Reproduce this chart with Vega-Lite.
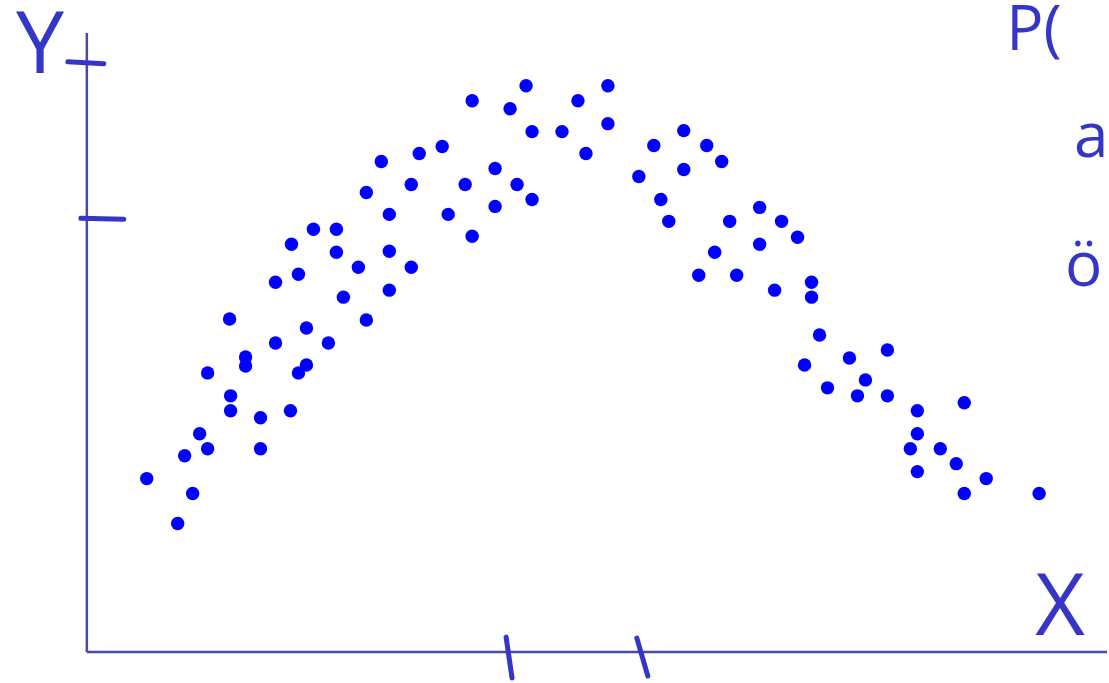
{
  "$schema": "https://vega.github.io/schema/vega-lite/v6.json",
  "width": 1109,
  "height": 683,
  "padding": 0,
  "autosize": {"type": "fit", "contains": "padding"},
  "background": "white",
  "config": {"view": {"stroke": null}},
  "datasets": {
    "points": [
      {"x":60,"y":174},{"x":91,"y":129},{"x":98,"y":197},{"x":106,"y":159},{"x":113,"y":219},
      {"x":121,"y":204},{"x":121,"y":280},{"x":143,"y":334},{"x":144,"y":257},{"x":144,"y":242},
      {"x":159,"y":296},{"x":159,"y":287},{"x":174,"y":235},{"x":174,"y":204},{"x":189,"y":371},
      {"x":189,"y":310},{"x":205,"y":409},{"x":204,"y":242},{"x":212,"y":379},{"x":212,"y":280},
      {"x":220,"y":325},{"x":220,"y":288},{"x":227,"y":424},{"x":242,"y":310},{"x":250,"y":424},
      {"x":250,"y":401},{"x":257,"y":356},{"x":272,"y":386},{"x":280,"y":461},{"x":280,"y":333},
      {"x":295,"y":492},{"x":303,"y":439},{"x":303,"y":402},{"x":303,"y":363},{"x":325,"y":469},
      {"x":325,"y":386},{"x":333,"y":500},{"x":356,"y":507},{"x":362,"y":439},{"x":379,"y":469},
      {"x":386,"y":417},{"x":386,"y":553},{"x":409,"y":485},{"x":409,"y":447},{"x":424,"y":545},
      {"x":431,"y":469},{"x":440,"y":568},{"x":446,"y":522},{"x":446,"y":454},{"x":476,"y":522},
      {"x":492,"y":553},{"x":500,"y":500},{"x":522,"y":568},{"x":522,"y":530},{"x":553,"y":477},
      {"x":568,"y":508},{"x":575,"y":454},{"x":583,"y":432},{"x":598,"y":523},{"x":598,"y":484},
      {"x":613,"y":378},{"x":621,"y":508},{"x":629,"y":401},{"x":636,"y":492},{"x":644,"y":432},
      {"x":651,"y":378},{"x":674,"y":446},{"x":674,"y":409},{"x":689,"y":363},{"x":696,"y":432},
      {"x":712,"y":416},{"x":726,"y":371},{"x":726,"y":356},{"x":734,"y":318},{"x":719,"y":288},
      {"x":742,"y":265},{"x":764,"y":295},{"x":772,"y":257},{"x":780,"y":273},{"x":802,"y":303},
      {"x":802,"y":257},{"x":832,"y":242},{"x":832,"y":219},{"x":825,"y":204},{"x":855,"y":204},
      {"x":871,"y":189},{"x":879,"y":250},{"x":832,"y":181},{"x":901,"y":174},{"x":879,"y":159},
      {"x":954,"y":159}
    ],
    "axes": [
      {"x":0,"y":0,"x2":0,"y2":621},
      {"x":0,"y":0,"x2":1022,"y2":0}
    ],
    "ticks": [
      {"x":-19,"y":592,"x2":17,"y2":590},
      {"x":-6,"y":435,"x2":37,"y2":434},
      {"x":420,"y":15,"x2":426,"y2":-26},
      {"x":551,"y":14,"x2":562,"y2":-24}
    ],
    "axisLabels": [
      {"x":-47,"y":581,"label":"Y"},
      {"x":975,"y":17,"label":"X"}
    ],
    "sideText": [
      {"x":921,"y":604,"label":"P("},
      {"x":989,"y":497,"label":"a"},
      {"x":980,"y":367,"label":"ö"}
    ]
  },
  "layer": [
    {
      "data": {"name": "axes"},
      "mark": {"type": "rule", "color": "#4848a8", "strokeWidth": 2.5},
      "encoding": {
        "x": {"field": "x", "type": "quantitative", "scale": {"domain": [-87, 1022], "nice": false, "zero": false}, "axis": null},
        "y": {"field": "y", "type": "quantitative", "scale": {"domain": [-31, 652], "nice": false, "zero": false}, "axis": null},
        "x2": {"field": "x2"},
        "y2": {"field": "y2"}
      }
    },
    {
      "data": {"name": "ticks"},
      "mark": {"type": "rule", "color": "#3535c8", "strokeWidth": 5, "strokeCap": "round"},
      "encoding": {
        "x": {"field": "x", "type": "quantitative", "scale": {"domain": [-87, 1022], "nice": false, "zero": false}, "axis": null},
        "y": {"field": "y", "type": "quantitative", "scale": {"domain": [-31, 652], "nice": false, "zero": false}, "axis": null},
        "x2": {"field": "x2"},
        "y2": {"field": "y2"}
      }
    },
    {
      "data": {"name": "points"},
      "mark": {"type": "circle", "color": "#0000ff", "opacity": 1, "size": 180},
      "encoding": {
        "x": {"field": "x", "type": "quantitative", "scale": {"domain": [-87, 1022], "nice": false, "zero": false}, "axis": null},
        "y": {"field": "y", "type": "quantitative", "scale": {"domain": [-31, 652], "nice": false, "zero": false}, "axis": null}
      }
    },
    {
      "data": {"name": "axisLabels"},
      "mark": {"type": "text", "color": "#3535c8", "font": "Open Sans", "fontSize": 86, "align": "center", "baseline": "alphabetic"},
      "encoding": {
        "x": {"field": "x", "type": "quantitative", "scale": {"domain": [-87, 1022], "nice": false, "zero": false}, "axis": null},
        "y": {"field": "y", "type": "quantitative", "scale": {"domain": [-31, 652], "nice": false, "zero": false}, "axis": null},
        "text": {"field": "label"}
      }
    },
    {
      "data": {"name": "sideText"},
      "mark": {"type": "text", "color": "#3535c8", "font": "Open Sans", "fontSize": 62, "align": "left", "baseline": "alphabetic"},
      "encoding": {
        "x": {"field": "x", "type": "quantitative", "scale": {"domain": [-87, 1022], "nice": false, "zero": false}, "axis": null},
        "y": {"field": "y", "type": "quantitative", "scale": {"domain": [-31, 652], "nice": false, "zero": false}, "axis": null},
        "text": {"field": "label"}
      }
    }
  ]
}
